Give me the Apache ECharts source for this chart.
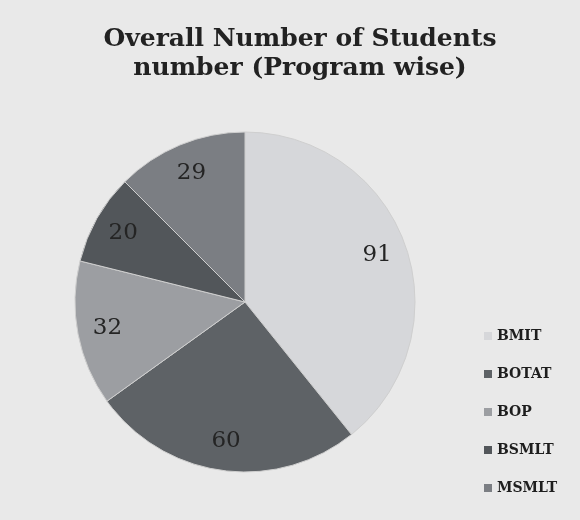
<!DOCTYPE html>
<html>
<head>
<meta charset="utf-8">
<title>Overall Number of Students</title>
<script src="https://cdn.jsdelivr.net/npm/echarts@6/dist/echarts.min.js"></script>
<style>
  html, body { margin: 0; padding: 0; background: #e9e9e9; }
  #chart { width: 580px; height: 520px; }
</style>
</head>
<body>
<div id="chart"></div>
<script>
  // 数据
  var programs = ['BMIT', 'BOTAT', 'BOP', 'BSMLT', 'MSMLT'];
  var students = [91, 60, 32, 20, 29];
  var colors = ['#d6d7da', '#5e6266', '#9c9ea2', '#52565a', '#7b7e83'];

  var pieData = programs.map(function (name, i) {
    return { name: name, value: students[i] };
  });

  var chart = echarts.init(document.getElementById('chart'));
  var option = {
    backgroundColor: '#e9e9e9',
    color: colors,
    title: {
      text: 'Overall Number of Students\nnumber (Program wise)',
      left: 295,
      top: 20,
      textAlign: 'center',
      textStyle: {
        fontFamily: 'DejaVu Serif',
        fontWeight: 'bold',
        fontSize: 25,
        lineHeight: 29,
        color: '#222'
      }
    },
    legend: {
      orient: 'vertical',
      left: 479,
      top: 324,
      itemGap: 24,
      itemWidth: 8,
      itemHeight: 8,
      itemStyle: { borderWidth: 0 },
      icon: 'rect',
      data: programs,
      textStyle: {
        fontFamily: 'DejaVu Serif',
        fontWeight: 'bold',
        fontSize: 14,
        color: '#1e1e1e'
      }
    },
    series: [
      {
        // 饼图本体
        type: 'pie',
        center: [245, 302],
        radius: [0, 170],
        startAngle: 90,
        clockwise: true,
        label: { show: false },
        labelLine: { show: false },
        itemStyle: { borderColor: '#cfcfcf', borderWidth: 1 },
        emphasis: { disabled: true },
        data: pieData
      },
      {
        // 透明层，只用来放数值标签
        type: 'pie',
        center: [245, 302],
        radius: [104, 170],
        startAngle: 90,
        clockwise: true,
        silent: true,
        legendHoverLink: false,
        itemStyle: { color: 'rgba(0,0,0,0)' },
        label: {
          show: true,
          position: 'inside',
          formatter: '{c}',
          fontFamily: 'DejaVu Serif',
          fontSize: 23,
          color: '#242424'
        },
        labelLine: { show: false },
        data: pieData
      }
    ]
  };
  chart.setOption(option);
</script>
</body>
</html>
